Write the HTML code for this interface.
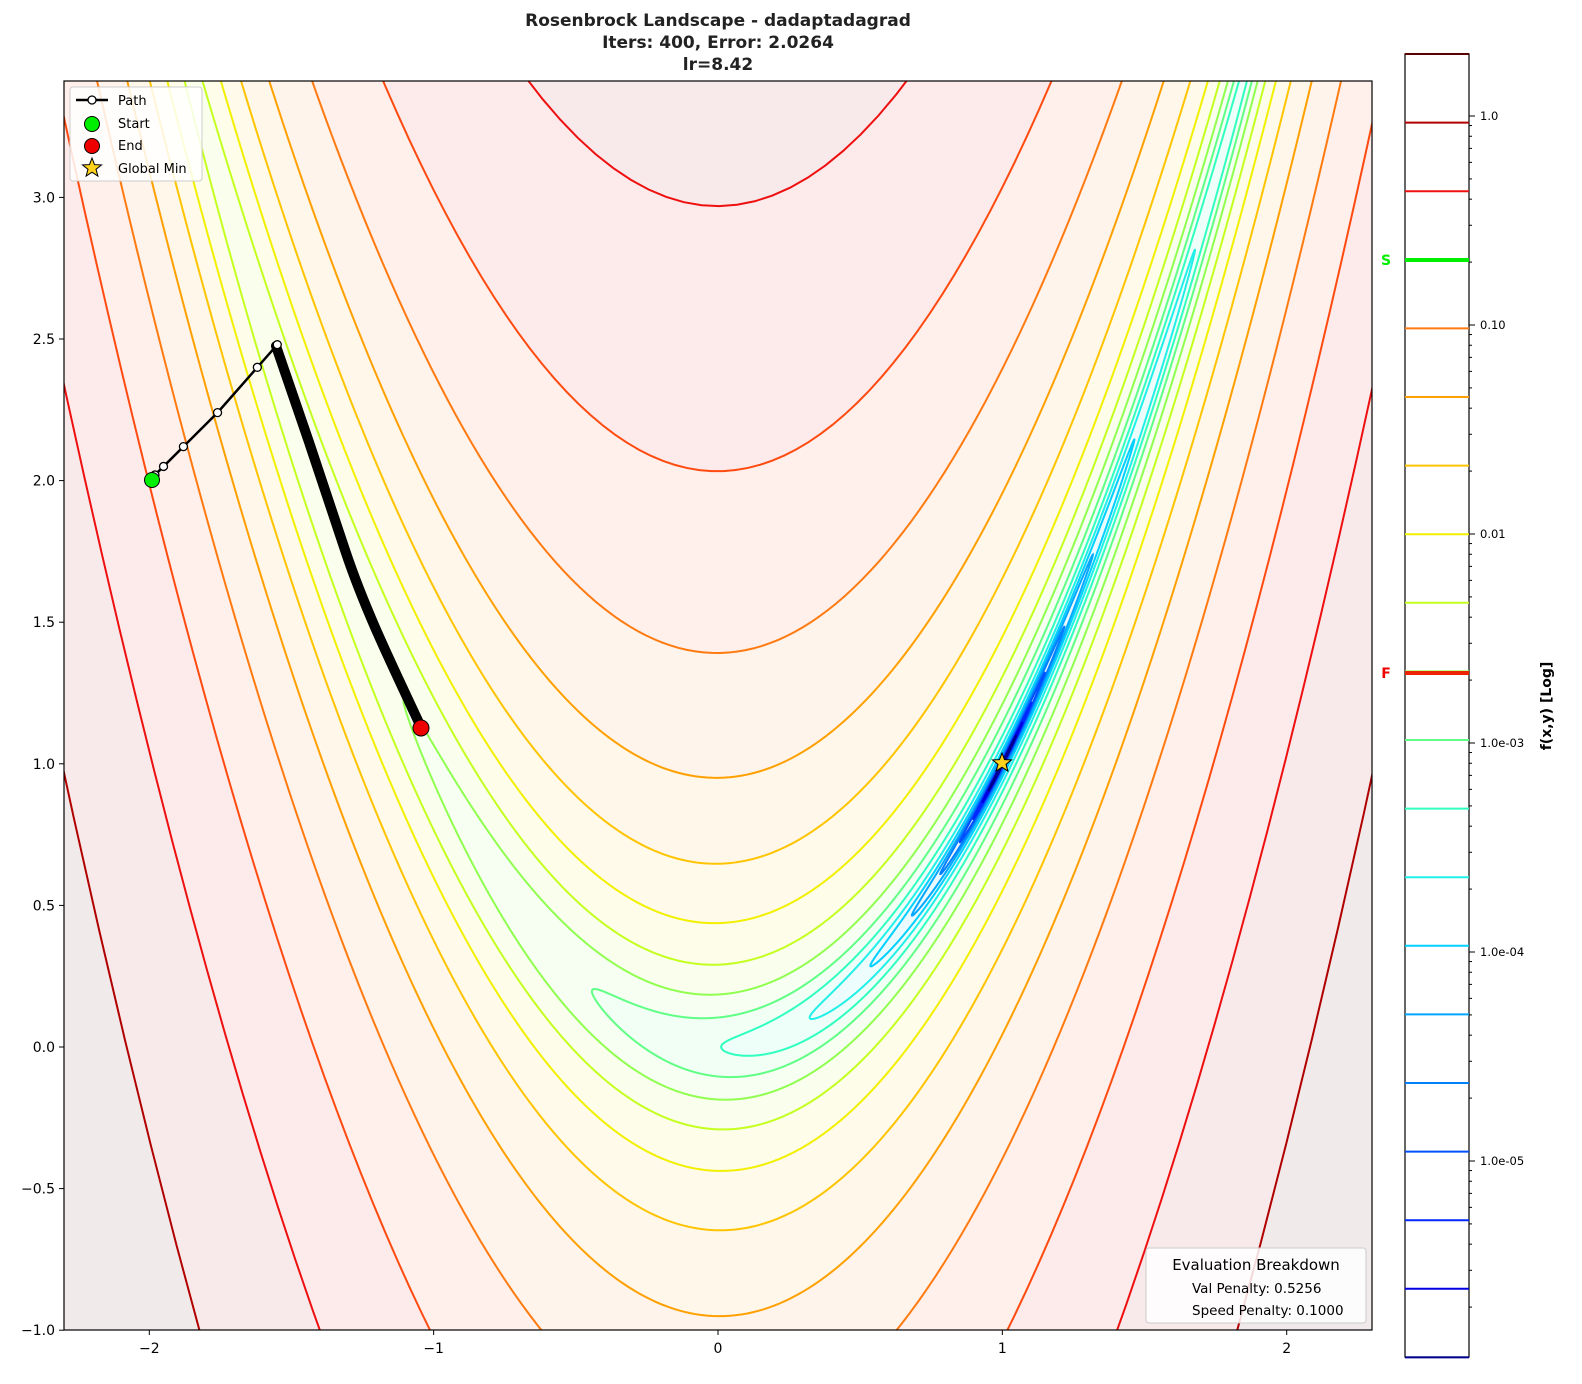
<!DOCTYPE html>
<html><head><meta charset="utf-8"><style>
html,body{margin:0;padding:0;background:#fff;width:1582px;height:1384px;overflow:hidden;font-family:"Liberation Sans","DejaVu Sans",sans-serif}
svg{display:block;position:absolute;left:0;top:0}
</style></head><body>
<svg id="s" width="1582" height="1384" xmlns="http://www.w3.org/2000/svg" font-family="DejaVu Sans, Liberation Sans, sans-serif">
<defs><clipPath id="cp"><rect x="64" y="81" width="1308" height="1249"/></clipPath></defs>
<rect x="64" y="81" width="1308" height="1249" fill="#f2e4e4"/>
<g id="fills" clip-path="url(#cp)"></g>
<g id="lines" clip-path="url(#cp)"></g>
<g id="path" clip-path="url(#cp)"></g>
<rect x="64" y="81" width="1308" height="1249" fill="none" stroke="#000" stroke-width="1.2"/>
<g id="ticks" font-size="14" fill="#000"></g>
<g font-size="17" font-weight="bold" text-anchor="middle" fill="#222">
<text x="718" y="26">Rosenbrock Landscape - dadaptadagrad</text>
<text x="718" y="48">Iters: 400, Error: 2.0264</text>
<text x="718" y="70">lr=8.42</text>
</g>
<g id="legend"></g>
<g id="cbar"></g>
</svg>
<script>
const NS="http://www.w3.org/2000/svg";
function el(p,t,a,txt){const e=document.createElementNS(NS,t);for(const k in a)e.setAttribute(k,a[k]);if(txt!==undefined)e.textContent=txt;document.getElementById(p).appendChild(e);return e;}
const X=x=>718+284.35*x, Y=y=>1047-283.2*y;
const cols=["#5a0000","#b00000","#ee1010","#ff4a10","#ff7a10","#ffa000","#ffc400","#f2f000","#c4ff20","#90ff50","#60ff85","#30ffc0","#20f0e8","#00d0ff","#00a8ff","#0080ff","#0050ff","#0028ff","#0000e0","#000090"];
const hex=h=>[parseInt(h.substr(1,2),16),parseInt(h.substr(3,2),16),parseInt(h.substr(5,2),16)];
const levels=[];
for(let k=-1;k<=18;k++){levels.push({k,f:1880/Math.pow(2.13,k),col:hex(cols[k+1])});}
function curve(c){
 const a=Math.sqrt(c),b=Math.sqrt(c/100);let d="";
 const N=3000;
 for(let i=0;i<=N;i++){const t=2*Math.PI*i/N;const x=1+a*Math.cos(t);const y=x*x+b*Math.sin(t);
  d+=(i?"L":"M")+X(x).toFixed(2)+","+Y(y).toFixed(2);}
 return d+"Z";
}
const rgb=c=>`rgb(${c[0]},${c[1]},${c[2]})`;
const mix=c=>[c[0]*0.08+255*0.92|0,c[1]*0.08+255*0.92|0,c[2]*0.08+255*0.92|0];
for(const L of levels){const d=curve(L.f);
 el("fills","path",{d,fill:rgb(mix(L.col)),stroke:"none"});}
for(const L of levels){if(L.k<0)continue;const d=curve(L.f);
 el("lines","path",{d,fill:"none",stroke:rgb(L.col),"stroke-width":2});}
const pts=[[-2,2],[-1.98,2.02],[-1.95,2.05],[-1.88,2.12],[-1.76,2.24],[-1.62,2.4],[-1.55,2.48]];
el("path","polyline",{points:pts.map(p=>X(p[0])+","+Y(p[1])).join(" "),fill:"none",stroke:"#000","stroke-width":2.5});
el("path","path",{d:"M276,346 C300,415 322,480 345,550 C365,610 392,665 421,727",fill:"none",stroke:"#000","stroke-width":10,"stroke-linecap":"round"});
for(const p of pts.slice(1))el("path","circle",{cx:X(p[0]),cy:Y(p[1]),r:4,fill:"#fff",stroke:"#000","stroke-width":1.3});
el("path","circle",{cx:152,cy:480,r:7.5,fill:"#00ee00",stroke:"#000","stroke-width":1});
el("path","circle",{cx:421,cy:728,r:8,fill:"#ee0000",stroke:"#000","stroke-width":1});
function star(cx,cy,R){let d="";for(let i=0;i<10;i++){const r=i%2?R*0.42:R;const a=-Math.PI/2+i*Math.PI/5;d+=(i?"L":"M")+(cx+r*Math.cos(a)).toFixed(1)+","+(cy+r*Math.sin(a)).toFixed(1);}return d+"Z";}
el("path","path",{d:star(1002,763,10),fill:"#ffd21e",stroke:"#000","stroke-width":1});
const xt=[[-2,"−2"],[-1,"−1"],[0,"0"],[1,"1"],[2,"2"]];
for(const [v,s] of xt){el("ticks","line",{x1:X(v),x2:X(v),y1:1330,y2:1335,stroke:"#000"});el("ticks","text",{x:X(v),y:1353,"text-anchor":"middle"},s);}
const yt=[3,2.5,2,1.5,1,0.5,0,-0.5,-1];
for(const v of yt){el("ticks","line",{x1:59,x2:64,y1:Y(v),y2:Y(v),stroke:"#000"});el("ticks","text",{x:55,y:Y(v)+5,"text-anchor":"end"},(v<0?"−":"")+Math.abs(v).toFixed(1));}
el("legend","rect",{x:70,y:87,width:132,height:94,rx:3,fill:"#fff","fill-opacity":0.85,stroke:"#ccc"});
el("legend","line",{x1:76,x2:108,y1:100,y2:100,stroke:"#000","stroke-width":2.5});
el("legend","circle",{cx:92,cy:100,r:4,fill:"#fff",stroke:"#000","stroke-width":1.3});
el("legend","circle",{cx:92,cy:124,r:7.5,fill:"#00ee00",stroke:"#000"});
el("legend","circle",{cx:92,cy:146,r:7.5,fill:"#ee0000",stroke:"#000"});
el("legend","path",{d:star(92,168,10),fill:"#ffd21e",stroke:"#000"});
[["Path",105],["Start",128],["End",150],["Global Min",173]].forEach(([t,y])=>el("legend","text",{x:118,y,"font-size":13},t));
el("legend","rect",{x:1146,y:1248,width:220,height:75,rx:3,fill:"#fff","fill-opacity":0.85,stroke:"#ccc"});
el("legend","text",{x:1256,y:1270,"font-size":15,"text-anchor":"middle"},"Evaluation Breakdown");
el("legend","text",{x:1192,y:1293,"font-size":13.5},"Val Penalty: 0.5256");
el("legend","text",{x:1192,y:1315,"font-size":13.5},"Speed Penalty: 0.1000");
el("cbar","rect",{x:1405,y:54,width:64,height:1303,fill:"#fff",stroke:"#000","stroke-width":1.2});
levels.forEach((L,i)=>{const y=54+68.6*i;el("cbar","line",{x1:1405,x2:1469,y1:y,y2:y,stroke:rgb(L.col),"stroke-width":2});});
el("cbar","line",{x1:1405,x2:1469,y1:260,y2:260,stroke:"#00ee00","stroke-width":4});
el("cbar","line",{x1:1405,x2:1469,y1:673,y2:673,stroke:"#ee2200","stroke-width":4});
el("cbar","text",{x:1386,y:265,"font-size":14,"font-weight":"bold",fill:"#00ee00","text-anchor":"middle"},"S");
el("cbar","text",{x:1386,y:678,"font-size":14,"font-weight":"bold",fill:"#ee0000","text-anchor":"middle"},"F");
const maj=[[116,"1.0"],[325,"0.10"],[534,"0.01"],[743,"1.0e-03"],[952,"1.0e-04"],[1161,"1.0e-05"]];
for(const [y,s] of maj){el("cbar","line",{x1:1469,x2:1475,y1:y,y2:y,stroke:"#000"});el("cbar","text",{x:1480,y:y+4,"font-size":11.5},s);}
for(let d=-1;d<6;d++){for(let m=2;m<10;m++){const py=116+209*(d+1)-209*Math.log10(m);if(py>54&&py<1357)el("cbar","line",{x1:1469,x2:1472,y1:py,y2:py,stroke:"#000"});}}
el("cbar","text",{x:0,y:0,"font-size":14,"font-weight":"bold",transform:"translate(1551,706) rotate(-90)","text-anchor":"middle"},"f(x,y) [Log]");
</script>
</body></html>
